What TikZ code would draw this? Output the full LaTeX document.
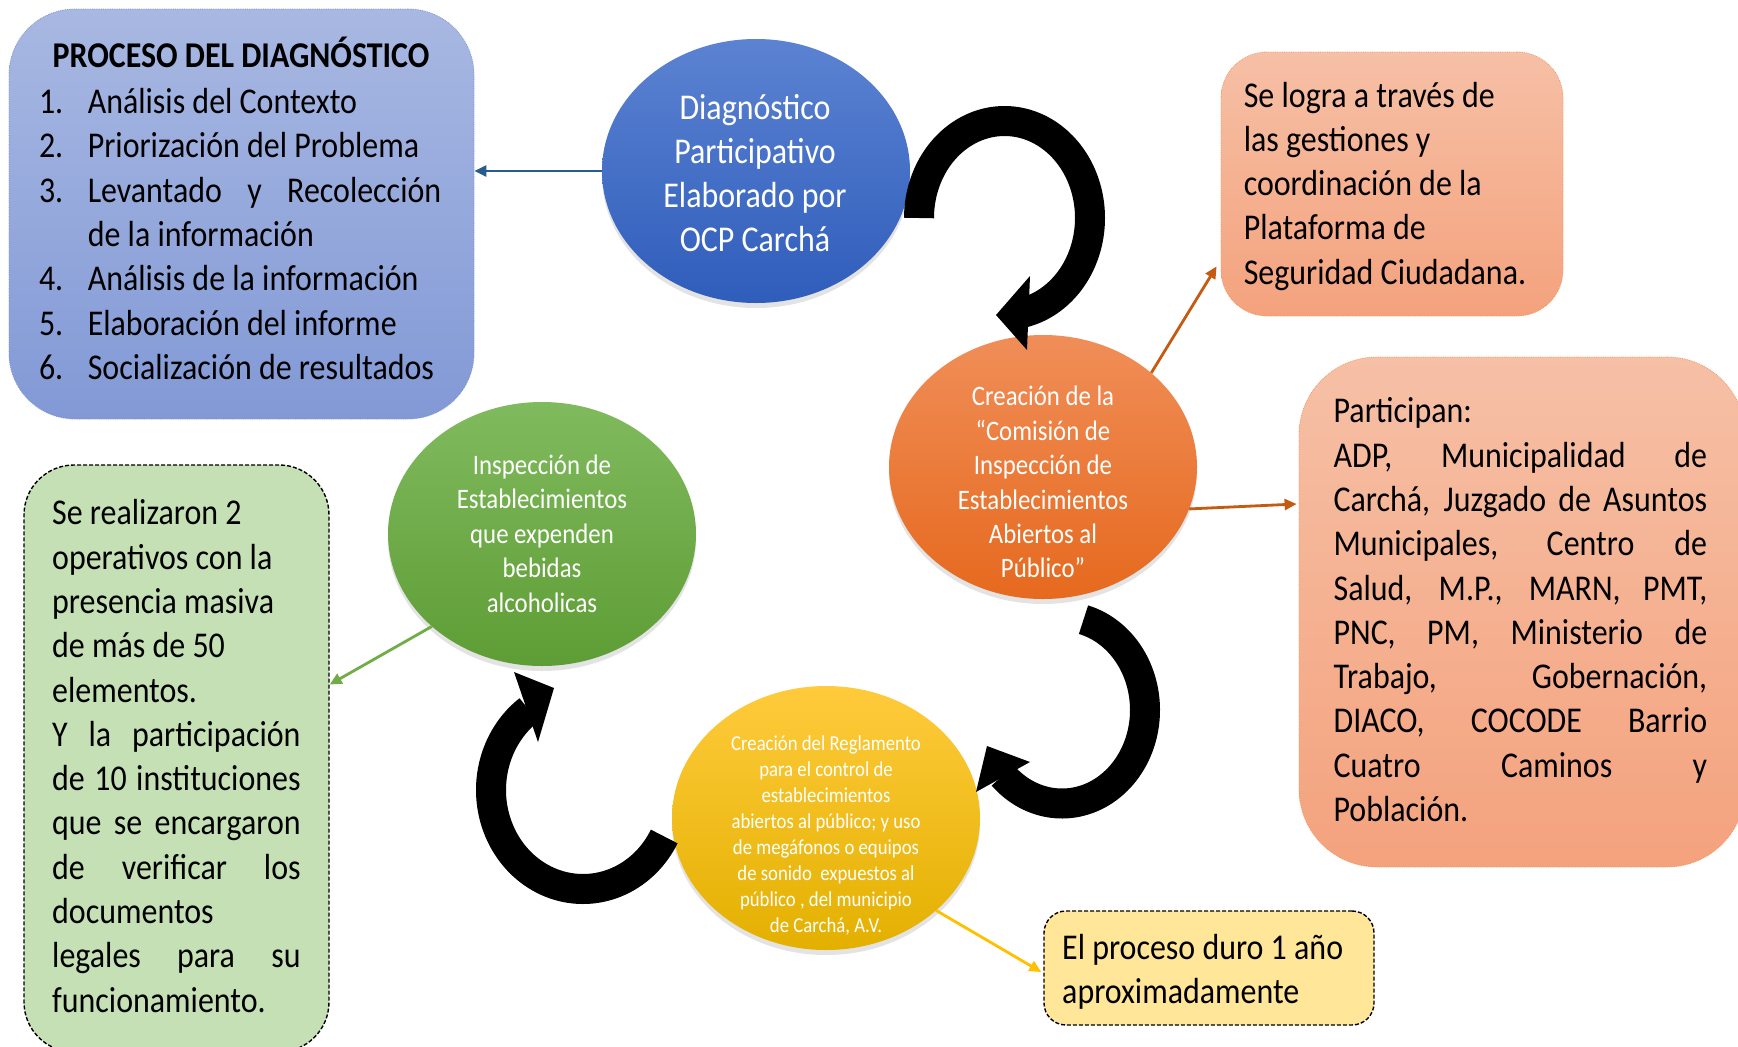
\documentclass[tikz,border=0pt]{standalone}
\usepackage{fontspec}
\setmainfont{Carlito}[FakeStretch=0.88]
\usetikzlibrary{shapes.geometric,arrows.meta,calc,shadows}
\definecolor{pbTop}{HTML}{A8B8E2}
\definecolor{pbBot}{HTML}{8299D6}
\definecolor{pbLine}{HTML}{7E95D0}
\definecolor{blTop}{HTML}{5C83D2}
\definecolor{blBot}{HTML}{2F5DBB}
\definecolor{orTop}{HTML}{F08E58}
\definecolor{orBot}{HTML}{E6691E}
\definecolor{grTop}{HTML}{80BA5E}
\definecolor{grBot}{HTML}{5E9D35}
\definecolor{yeTop}{HTML}{FFCB3C}
\definecolor{yeMid}{HTML}{FFC206}
\definecolor{yeBot}{HTML}{E3B000}
\definecolor{saTop}{HTML}{F6C0A6}
\definecolor{saBot}{HTML}{F4A27D}
\definecolor{saLine}{HTML}{F09A68}
\definecolor{gbFill}{HTML}{C5E0B4}
\definecolor{ybFill}{HTML}{FFE699}
\definecolor{arBlue}{HTML}{265C8E}
\definecolor{arOrange}{HTML}{C55A11}
\definecolor{arGreen}{HTML}{70AD47}
\definecolor{arYellow}{HTML}{FFC000}
\newcommand{\bigtxt}{\fontsize{36.3pt}{44.3pt}\selectfont}
\newcommand{\midtxt}{\fontsize{28.2pt}{34.4pt}\selectfont}
\newcommand{\smtxt}{\fontsize{21.3pt}{26pt}\selectfont}
\begin{document}
\begin{tikzpicture}[x=1pt,y=-1pt,
  ell/.style={ellipse, minimum width=308pt, minimum height=264pt, inner sep=0pt,
    drop shadow={opacity=0.22, shadow xshift=0pt, shadow yshift=-5pt}},
  txt/.style={inner sep=0pt},
  wtxt/.style={inner sep=0pt, text=white},
  conn/.style={line width=2.8pt, -{Triangle[length=12pt,width=11pt]}},
  salbox/.style={draw=saLine, densely dotted, line width=0.8pt, top color=saTop, bottom color=saBot, inner sep=0pt},
  dashbox/.style={draw=black, dash pattern=on 4pt off 2pt, line width=1.4pt, inner sep=0pt},
  blk/.style={line width=30pt, black, line join=round}
]
\useasboundingbox (0,0) rectangle (1738,1047);
\fill[white] (0,0) rectangle (1738,1047);

% boxes
\node[draw=pbLine, densely dotted, line width=0.8pt, top color=pbTop, bottom color=pbBot,
      rounded corners=66pt, minimum width=465pt, minimum height=410pt, inner sep=0pt] (pbox) at (241.5,214) {};
\node[salbox, rounded corners=46pt, minimum width=342pt, minimum height=264pt] (tbox) at (1392,184) {};
\node[salbox, rounded corners=78pt, minimum width=446pt, minimum height=510pt] (part) at (1522,612) {};
\node[dashbox, fill=gbFill, rounded corners=50pt,
      minimum width=305pt, minimum height=587pt] (gbox) at (176.5,758.5) {};
\node[dashbox, fill=ybFill, rounded corners=22pt,
      minimum width=330pt, minimum height=114pt] (ybox) at (1209,968) {};

% ellipses
\node[ell, top color=blTop, bottom color=blBot] (diag) at (756,171) {};
\node[ell, top color=orTop, bottom color=orBot] (com) at (1043,467) {};
\node[ell, top color=grTop, bottom color=grBot] (insp) at (542,534) {};
\node[ell, top color=yeTop, middle color=yeMid, bottom color=yeBot] (reg) at (826,818) {};

% texts
\node[txt, anchor=base] (ptitle) at (241,67) {\bigtxt\bfseries PROCESO DEL DIAGNÓSTICO};
\node[txt, anchor=base west] (plist) at (38.8,113.6) {\parbox[t]{402.2pt}{\bigtxt
\makebox[48.8pt][l]{1.}Análisis del Contexto\\
\makebox[48.8pt][l]{2.}Priorización del Problema\\
\makebox[48.8pt][l]{3.}\makebox[353.4pt][s]{Levantado y Recolección}\\
\hspace*{48.8pt}de la información\\
\makebox[48.8pt][l]{4.}Análisis de la información\\
\makebox[48.8pt][l]{5.}Elaboración del informe\\
\makebox[48.8pt][l]{6.}Socialización de resultados}};

\node[wtxt, anchor=base] (diagtxt) at (755,119) {\parbox[t]{300pt}{\centering\bigtxt
Diagnóstico\\ Participativo\\ Elaborado por\\ OCP Carchá}};
\node[wtxt, anchor=base] (comtxt) at (1043,405.8) {\parbox[t]{290pt}{\centering\midtxt
Creación de la\\ “Comisión de\\ Inspección de\\ Establecimientos\\ Abiertos al\\ Público”}};
\node[wtxt, anchor=base] (insptxt) at (542,474.5) {\parbox[t]{290pt}{\centering\midtxt
Inspección de\\ Establecimientos\\ que expenden\\ bebidas\\ alcoholicas}};
\node[wtxt, anchor=base] (regtxt) at (826,750.5) {\parbox[t]{290pt}{\centering\smtxt
Creación del Reglamento\\ para el control de\\ establecimientos\\ abiertos al público; y uso\\
de megáfonos o equipos\\ de sonido~ expuestos al\\ público , del municipio\\ de Carchá, A.V.}};

\node[txt, anchor=base west] (tboxtxt) at (1243.6,107) {\parbox[t]{310pt}{\bigtxt
Se logra a través de\\ las gestiones y\\ coordinación de la\\ Plataforma de\\ Seguridad Ciudadana.}};
\node[txt, anchor=base west] (parttxt) at (1333.4,422.8) {\parbox[t]{373.6pt}{\bigtxt
Participan:\\
\makebox[\linewidth][s]{ADP, Municipalidad de}\\
\makebox[\linewidth][s]{Carchá, Juzgado de Asuntos}\\
\makebox[\linewidth][s]{Municipales, Centro de}\\
\makebox[\linewidth][s]{Salud, M.P., MARN, PMT,}\\
\makebox[\linewidth][s]{PNC, PM, Ministerio de}\\
\makebox[\linewidth][s]{Trabajo, Gobernación,}\\
\makebox[\linewidth][s]{DIACO, COCODE Barrio}\\
\makebox[\linewidth][s]{Cuatro Caminos y}\\
Población.}};
\node[txt, anchor=base west] (gboxtxt) at (52,524.8) {\parbox[t]{248.4pt}{\bigtxt
Se realizaron 2\\ operativos con la\\ presencia masiva\\ de más de 50\\ elementos.\\
\makebox[\linewidth][s]{Y la participación}\\
\makebox[\linewidth][s]{de 10 instituciones}\\
\makebox[\linewidth][s]{que se encargaron}\\
\makebox[\linewidth][s]{de verificar los}\\
documentos\\
\makebox[\linewidth][s]{legales para su}\\
funcionamiento.}};
\node[txt, anchor=base west] (yboxtxt) at (1062,959.3) {\parbox[t]{300pt}{\bigtxt
El proceso duro 1 año\\ aproximadamente}};

% thin connectors
\draw[conn, arBlue] (diag.west) -- ($(pbox.east)+(0,-43)$);
\draw[conn, arOrange] (com.41) -- ($(tbox.south west)+(-4,-50)$);
\draw[conn, arOrange] (com.-16) -- ($(part.west)+(-2,-108)$);
\draw[conn, arGreen] (insp.220) -- ($(gbox.east)+(0,-74)$);
\draw[conn, arYellow] (reg.-40) -- ($(ybox.west)+(-2,4)$);

% block circular arrows
\draw[blk] plot[domain=180:438, samples=120] ({1004.5+85.5*cos(\x)},{218+97*sin(\x)});
\fill[black] (1030,276) -- (996,315) -- (1027,350) -- cycle;
\draw[blk] plot[domain=-75:135.5, samples=120] ({1062+83*cos(\x)},{710+93.5*sin(\x)});
\fill[black] (1030,762) -- (987,746) -- (976,792) -- cycle;
\draw[blk] plot[domain=28:234, samples=120] ({583+92*cos(\x)},{790+99*sin(\x)});
\fill[black] (514,672) -- (554,688) -- (538,742) -- cycle;
\end{tikzpicture}
\end{document}
